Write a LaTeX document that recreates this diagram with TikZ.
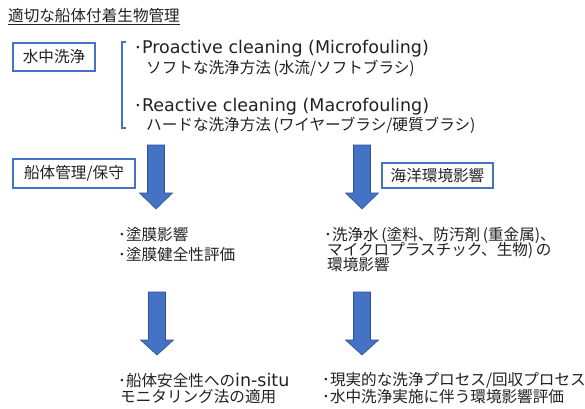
\documentclass[tikz,border=0pt]{standalone}
\usepackage{fontspec}
\newfontfamily\jp{Noto Sans CJK JP}
\newfontfamily\latn{DejaVu Sans}
\newcommand{\lt}[1]{{\latn\fontsize{17.5}{18}\selectfont #1}}
\definecolor{accent}{HTML}{4472C4}
\definecolor{accentdark}{HTML}{2F528F}
\definecolor{ink}{HTML}{222222}
\tikzset{
  txt/.style={font=\jp\fontsize{15.6}{18}\selectfont, text=ink, inner sep=0pt, anchor=west},
  labelbox/.style={draw=accent, line width=1.6pt, fill=white},
  blockarrow/.style={fill=accent, draw=accentdark, line width=0.6pt, line join=miter},
}
\newcommand{\blockarr}[4]{% center x, top y, head base y, tip y
  \path[blockarrow] (#1-8.5,#2) -- (#1+8.5,#2) -- (#1+8.5,#3) -- (#1+16.5,#3) -- (#1,#4) -- (#1-16.5,#3) -- (#1-8.5,#3) -- cycle;}
\begin{document}
\begin{tikzpicture}[x=1pt,y=-1pt]
\useasboundingbox (0,0) rectangle (585,408);
\fill[white] (0,0) rectangle (585,408);
% title
\node[txt] (title) at (8,17) {\underline{適切な船体付着生物管理}};
% box 1
\draw[labelbox] (13,43) rectangle (95,71);
\node[txt, anchor=center] (box1) at (54,57) {水中洗浄};
% bracket
\draw[accent, line width=1.4pt] (126,42) -- (122,42) -- (122,128) -- (126,128);
\node[txt] (pro1) at (134,49) {･\lt{Proactive cleaning (Microfouling)}};
\node[txt] (pro2) at (146,68) {ソフトな洗浄方法\,(水流/ソフトブラシ)};
\node[txt] (re1) at (134,107) {･\lt{Reactive cleaning (Macrofouling)}};
\node[txt] (re2) at (146,125) {ハードな洗浄方法\,(ワイヤーブラシ/硬質ブラシ)};
% box 2 and 3
\draw[labelbox] (13,159) rectangle (135,188);
\node[txt, anchor=center] (box2) at (74,173.5) {船体管理/保守};
\draw[labelbox] (382,163) rectangle (493,188);
\node[txt, anchor=center] (box3) at (437.5,175.5) {海洋環境影響};
% arrows
\blockarr{156}{145}{193}{209}
\blockarr{362}{145}{193}{209}
\blockarr{157}{292}{340}{355}
\blockarr{362}{292}{340}{355}
% middle texts
\node[txt] (l1) at (118,235) {･塗膜影響};
\node[txt] (l2) at (118,255) {･塗膜健全性評価};
\node[txt] (r1) at (324,235) {･洗浄水\,(塗料、防汚剤\,(重金属)、};
\node[txt] (r2) at (327,250) {マイクロプラスチック、生物)\,の};
\node[txt] (r3) at (327,265) {環境影響};
% bottom texts
\node[txt] (b1) at (118,380) {･船体安全性への\lt{in-situ}};
\node[txt] (b2) at (120,397) {モニタリング法の適用};
\node[txt] (c1) at (322,380) {･現実的な洗浄プロセス/回収プロセス};
\node[txt] (c2) at (322,397) {･水中洗浄実施に伴う環境影響評価};
\end{tikzpicture}
\end{document}
